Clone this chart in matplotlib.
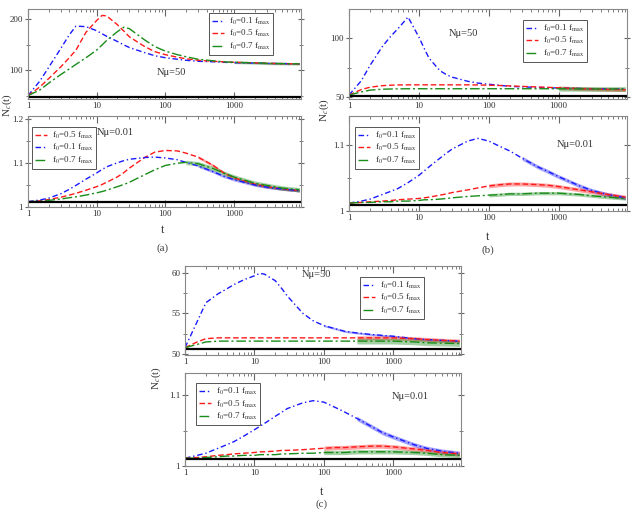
import matplotlib
matplotlib.use('Agg')
import numpy as np
import matplotlib.pyplot as plt
from matplotlib.ticker import FixedLocator, LogLocator, NullFormatter, MultipleLocator

plt.rcParams['font.family'] = ['Liberation Serif', 'DejaVu Serif']
plt.rcParams['mathtext.fontset'] = 'stix'

# time points
T = [1, 1.5, 2, 3, 4, 5, 7, 10, 12, 14, 20, 25, 30, 50, 70, 100, 150, 200, 300,
     500, 700, 1000, 2000, 3000, 5000, 9000]

# (a) upper panel, N mu = 50
A_TOP_BLUE = [50.5, 80, 106, 143, 170, 187, 186, 178, 172, 167, 157, 150, 145, 135,
              129, 125, 122, 120, 118, 117, 116, 115.5, 114.5, 114, 113.5, 113]
A_TOP_RED = [50.5, 68, 84, 107, 125, 140, 175, 198, 208, 207, 190, 177, 166, 147,
             137, 131, 126, 123, 120, 118, 117, 116, 115, 114, 113.5, 113]
A_TOP_GREEN = [50.5, 62, 75, 92, 103, 112, 125, 140, 150, 159, 176, 185, 182, 160,
               147, 138, 131, 127, 122, 119, 117, 116, 115, 114, 113.5, 113]
# (a) lower panel, N mu = 0.01
A_BOT_BLUE = [1.012, 1.016, 1.020, 1.030, 1.040, 1.049, 1.063, 1.077, 1.085, 1.091,
              1.100, 1.105, 1.108, 1.112, 1.113, 1.111, 1.107, 1.101, 1.093, 1.080,
              1.070, 1.062, 1.050, 1.045, 1.041, 1.037]
A_BOT_RED = [1.012, 1.014, 1.017, 1.022, 1.027, 1.031, 1.038, 1.046, 1.051, 1.056,
             1.068, 1.078, 1.088, 1.112, 1.124, 1.128, 1.127, 1.122, 1.113, 1.094,
             1.078, 1.066, 1.052, 1.046, 1.041, 1.037]
A_BOT_GREEN = [1.012, 1.013, 1.015, 1.018, 1.021, 1.023, 1.027, 1.032, 1.035, 1.038,
               1.046, 1.051, 1.056, 1.073, 1.084, 1.094, 1.099, 1.101, 1.098, 1.087,
               1.077, 1.068, 1.054, 1.049, 1.043, 1.039]

# (b) upper panel
B_TOP_BLUE = [51.8, 64, 77, 93, 102, 108, 118, 101, 91, 83, 72.5, 69, 67, 63.5, 62,
              61, 60, 59.2, 58.8, 58.3, 58, 57.8, 57.4, 57.2, 57, 57]
B_TOP_RED = [51.8, 56.5, 58.5, 59.8, 60.2, 60.4, 60.5, 60.5, 60.5, 60.5, 60.5, 60.5,
             60.5, 60.5, 60.4, 60.2, 59.9, 59.6, 59.2, 58.7, 58.4, 58, 57.3, 57, 56.6, 56.3]
B_TOP_GREEN = [51.8, 54.5, 56, 56.8, 57, 57.1, 57.2, 57.2, 57.2, 57.2, 57.2, 57.2,
               57.2, 57.2, 57.2, 57.2, 57.2, 57.2, 57.2, 57.2, 57.2, 57.2, 57.1, 57, 57, 57]
# (b) lower panel
B_BOT_BLUE = [1.012, 1.015, 1.018, 1.025, 1.030, 1.034, 1.043, 1.054, 1.061, 1.067,
              1.080, 1.088, 1.094, 1.106, 1.110, 1.106, 1.097, 1.091, 1.080, 1.067,
              1.060, 1.052, 1.038, 1.031, 1.025, 1.020]
B_BOT_RED = [1.012, 1.013, 1.014, 1.015, 1.016, 1.017, 1.018, 1.019, 1.020, 1.021,
             1.024, 1.026, 1.028, 1.032, 1.035, 1.038, 1.040, 1.041, 1.041, 1.040,
             1.039, 1.037, 1.032, 1.029, 1.025, 1.021]
B_BOT_GREEN = [1.012, 1.013, 1.013, 1.014, 1.014, 1.015, 1.015, 1.016, 1.017, 1.017,
               1.018, 1.019, 1.020, 1.022, 1.023, 1.024, 1.025, 1.026, 1.026, 1.027,
               1.027, 1.027, 1.025, 1.023, 1.021, 1.019]

# (c) upper panel
C_TOP_BLUE = [50.8, 54, 56.3, 57.4, 58.0, 58.5, 59.1, 59.6, 59.9, 59.8, 59.0, 58.0,
              57.1, 55.0, 54.1, 53.5, 53.1, 52.8, 52.6, 52.4, 52.3, 52.2, 51.9, 51.8, 51.7, 51.6]
C_TOP_RED = [50.8, 51.5, 51.9, 52.0, 52.0, 52.0, 52.0, 52.0, 52.0, 52.0, 52.0, 52.0,
             52.0, 52.0, 52.0, 52.0, 52.0, 52.0, 52.0, 52.0, 52.0, 52.0, 51.9, 51.8, 51.7, 51.6]
C_TOP_GREEN = [50.8, 51.2, 51.5, 51.6, 51.6, 51.6, 51.6, 51.6, 51.6, 51.6, 51.6, 51.6,
               51.6, 51.6, 51.6, 51.6, 51.6, 51.6, 51.6, 51.6, 51.6, 51.6, 51.5, 51.4, 51.35, 51.3]
# (c) lower panel
C_BOT_BLUE = [1.011, 1.015, 1.018, 1.025, 1.030, 1.034, 1.042, 1.051, 1.056, 1.060,
              1.070, 1.076, 1.081, 1.089, 1.092, 1.090, 1.082, 1.076, 1.067, 1.055,
              1.047, 1.041, 1.030, 1.025, 1.021, 1.018]
C_BOT_RED = [1.011, 1.012, 1.013, 1.015, 1.016, 1.017, 1.018, 1.019, 1.020, 1.020,
             1.021, 1.022, 1.022, 1.023, 1.024, 1.025, 1.026, 1.026, 1.027, 1.028,
             1.028, 1.027, 1.024, 1.022, 1.019, 1.017]
C_BOT_GREEN = [1.011, 1.011, 1.012, 1.013, 1.014, 1.014, 1.015, 1.015, 1.016, 1.016,
               1.016, 1.017, 1.017, 1.018, 1.018, 1.019, 1.019, 1.019, 1.020, 1.020,
               1.020, 1.020, 1.019, 1.018, 1.016, 1.015]

# noisy tails: (start time, half width) for blue, red, green
A_TOP_NOISE = [(1000, 1.0), (2000, 1.0), (1000, 2.5)]
A_BOT_NOISE = [(300, 0.003), (300, 0.003), (200, 0.005)]
B_TOP_NOISE = [(1000, 0.5), (1000, 1.5), (1000, 2.0)]
B_BOT_NOISE = [(300, 0.003), (100, 0.003), (100, 0.0025)]
C_TOP_NOISE = [(100, 0.12), (300, 0.25), (300, 0.35)]
C_BOT_NOISE = [(300, 0.003), (100, 0.003), (100, 0.003)]

LABELS = [r'f$_0$=0.1 f$_{\rm max}$', r'f$_0$=0.5 f$_{\rm max}$', r'f$_0$=0.7 f$_{\rm max}$']
COLORS = ['#1a1aff', '#ff1a1a', '#1a8c1a']
DASHES = [(4, 2, 1, 2), (4, 2), (7, 2, 1.5, 2)]

W, H = 640, 511
fig = plt.figure(figsize=(6.4, 5.11), dpi=100)


def px_axes(x0, y0, x1, y1):
    # axes from pixel box of the reference
    return fig.add_axes([x0 / W, 1 - y1 / H, (x1 - x0) / W, (y1 - y0) / H])


def panel(ax, series, noise, ylim, base, yticks, yminor, leg_xy, text, text_xy, order=(0, 1, 2)):
    t = np.array(T)
    for i in order:
        y = np.array(series[i])
        ax.plot(t, y, color=COLORS[i], lw=1.0, dashes=DASHES[i], label=LABELS[i])
        start, hw = noise[i]
        m = t >= start
        ax.fill_between(t[m], y[m] - hw, y[m] + hw, color=COLORS[i], alpha=0.4, lw=0)
    ax.axhline(base, color='black', lw=1.6)
    ax.set_xscale('log')
    ax.set_xlim(1, 9500)
    ax.set_ylim(*ylim)
    ax.xaxis.set_major_locator(FixedLocator([1, 10, 100, 1000]))
    ax.xaxis.set_major_formatter(plt.FuncFormatter(lambda v, p: '%g' % v))
    ax.xaxis.set_minor_locator(LogLocator(base=10, subs=np.arange(2, 10)))
    ax.xaxis.set_minor_formatter(NullFormatter())
    ax.set_yticks(yticks)
    ax.set_yticklabels(['%g' % v for v in yticks])
    ax.yaxis.set_minor_locator(MultipleLocator(yminor))
    ax.tick_params(axis='x', which='both', direction='in', top=True, labelsize=6.5,
                   colors='#666666', labelcolor='#333333', pad=2)
    ax.tick_params(axis='x', which='major', length=5)
    ax.tick_params(axis='x', which='minor', length=2.5)
    ax.tick_params(axis='y', which='both', direction='inout', right=True, labelsize=6.5,
                   colors='#666666', labelcolor='#333333', pad=1)
    ax.tick_params(axis='y', which='major', length=5)
    ax.tick_params(axis='y', which='minor', length=3)
    for s in ax.spines.values():
        s.set_color('#888888')
        s.set_linewidth(0.8)
    handles, labels = ax.get_legend_handles_labels()
    leg = ax.legend(handles, labels, loc='upper left', bbox_to_anchor=leg_xy, borderaxespad=0,
                    fontsize=6.5, handlelength=1.4, handletextpad=0.5, labelspacing=0.15,
                    borderpad=0.3, fancybox=False, framealpha=1, edgecolor='#555555')
    leg.get_frame().set_linewidth(0.7)
    for txt in leg.get_texts():
        txt.set_color('#333333')
    ax.text(text_xy[0], text_xy[1], text, transform=ax.transAxes, fontsize=7.5,
            color='#333333', ha='center', va='center')


# (a)
ax = px_axes(28, 9, 301, 99)
panel(ax, [A_TOP_BLUE, A_TOP_RED, A_TOP_GREEN], A_TOP_NOISE, (44, 220.6), 48.5,
      [100, 200], 50, (0.663, 0.956), 'Nμ=50', (0.527, 0.289))
ax = px_axes(28, 116, 301, 207)
panel(ax, [A_BOT_BLUE, A_BOT_RED, A_BOT_GREEN], A_BOT_NOISE, (1.0, 1.206), 1.011,
      [1, 1.1, 1.2], 0.05, (0.015, 0.879), 'Nμ=0.01', (0.319, 0.824), order=(1, 0, 2))

# (b)
ax = px_axes(349, 9, 627, 99)
panel(ax, [B_TOP_BLUE, B_TOP_RED, B_TOP_GREEN], B_TOP_NOISE, (48.5, 124.8), 51,
      [50, 100], 25, (0.626, 0.878), 'Nμ=50', (0.41, 0.733))
ax = px_axes(349, 116, 627, 211)
panel(ax, [B_BOT_BLUE, B_BOT_RED, B_BOT_GREEN], B_BOT_NOISE, (1.0, 1.144), 1.009,
      [1, 1.1], 0.05, (0.022, 0.884), 'Nμ=0.01', (0.813, 0.705))

# (c)
ax = px_axes(185, 266, 461, 355)
panel(ax, [C_TOP_BLUE, C_TOP_RED, C_TOP_GREEN], C_TOP_NOISE, (49.9, 60.8), 50.6,
      [50, 55, 60], 2.5, (0.634, 0.876), 'Nμ=50', (0.477, 0.899))
ax = px_axes(185, 373, 461, 466)
panel(ax, [C_BOT_BLUE, C_BOT_RED, C_BOT_GREEN], C_BOT_NOISE, (1.0, 1.131), 1.010,
      [1, 1.1], 0.05, (0.040, 0.892), 'Nμ=0.01', (0.815, 0.742))

# axis labels and captions
for x, y in [(163, 230), (488, 237), (322, 492)]:
    fig.text(x / W, 1 - y / H, 't', fontsize=8.5, color='#333333', ha='center', va='center')
for x, y, s in [(163, 248, '(a)'), (488, 250, '(b)'), (322, 504, '(c)')]:
    fig.text(x / W, 1 - y / H, s, fontsize=8, color='#444444', ha='center', va='center')
for x, y in [(7, 105), (324, 110), (156, 378)]:
    fig.text(x / W, 1 - y / H, r'N$_c$(t)', fontsize=8, color='#333333', ha='center',
             va='center', rotation=90)

fig.savefig('out.png', dpi=100)
